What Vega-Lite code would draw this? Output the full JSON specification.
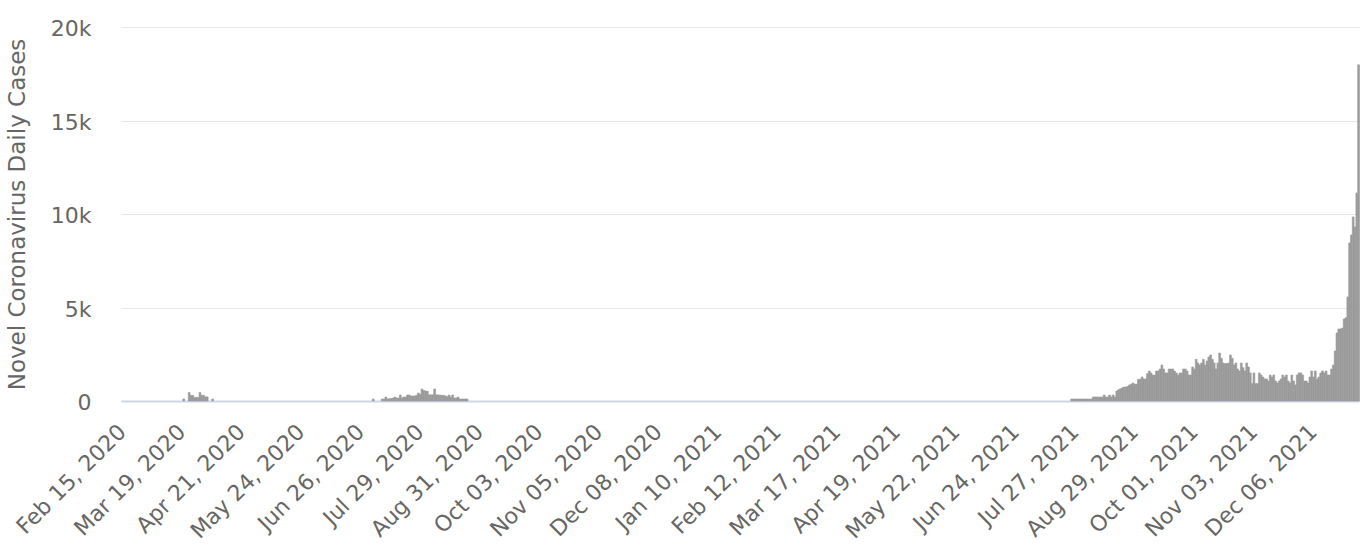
{
  "$schema": "https://vega.github.io/schema/vega-lite/v6.json",
  "width": 1238,
  "height": 374,
  "autosize": {"type": "none"},
  "padding": {"left": 121, "top": 27, "right": 10, "bottom": 145},
  "background": "white",
  "config": {"view": {"stroke": null}, "font": "DejaVu Sans"},
  "data": {"values": [
    {"date": "2020-03-20", "cases": 110},
    {"date": "2020-03-23", "cases": 460},
    {"date": "2020-03-24", "cases": 300},
    {"date": "2020-03-25", "cases": 300},
    {"date": "2020-03-26", "cases": 190},
    {"date": "2020-03-27", "cases": 190},
    {"date": "2020-03-28", "cases": 190},
    {"date": "2020-03-29", "cases": 460},
    {"date": "2020-03-30", "cases": 300},
    {"date": "2020-03-31", "cases": 300},
    {"date": "2020-04-01", "cases": 220},
    {"date": "2020-04-02", "cases": 220},
    {"date": "2020-04-05", "cases": 110},
    {"date": "2020-07-03", "cases": 107},
    {"date": "2020-07-08", "cases": 107},
    {"date": "2020-07-09", "cases": 107},
    {"date": "2020-07-10", "cases": 214},
    {"date": "2020-07-11", "cases": 107},
    {"date": "2020-07-12", "cases": 130},
    {"date": "2020-07-13", "cases": 130},
    {"date": "2020-07-14", "cases": 160},
    {"date": "2020-07-15", "cases": 214},
    {"date": "2020-07-16", "cases": 160},
    {"date": "2020-07-17", "cases": 160},
    {"date": "2020-07-18", "cases": 321},
    {"date": "2020-07-19", "cases": 160},
    {"date": "2020-07-20", "cases": 214},
    {"date": "2020-07-21", "cases": 214},
    {"date": "2020-07-22", "cases": 321},
    {"date": "2020-07-23", "cases": 321},
    {"date": "2020-07-24", "cases": 267},
    {"date": "2020-07-25", "cases": 267},
    {"date": "2020-07-26", "cases": 267},
    {"date": "2020-07-27", "cases": 300},
    {"date": "2020-07-28", "cases": 428},
    {"date": "2020-07-29", "cases": 360},
    {"date": "2020-07-30", "cases": 642},
    {"date": "2020-07-31", "cases": 560},
    {"date": "2020-08-01", "cases": 535},
    {"date": "2020-08-02", "cases": 520},
    {"date": "2020-08-03", "cases": 330},
    {"date": "2020-08-04", "cases": 330},
    {"date": "2020-08-05", "cases": 330},
    {"date": "2020-08-06", "cases": 642},
    {"date": "2020-08-07", "cases": 330},
    {"date": "2020-08-08", "cases": 320},
    {"date": "2020-08-09", "cases": 320},
    {"date": "2020-08-10", "cases": 300},
    {"date": "2020-08-11", "cases": 300},
    {"date": "2020-08-12", "cases": 270},
    {"date": "2020-08-13", "cases": 230},
    {"date": "2020-08-14", "cases": 321},
    {"date": "2020-08-15", "cases": 214},
    {"date": "2020-08-16", "cases": 321},
    {"date": "2020-08-17", "cases": 160},
    {"date": "2020-08-18", "cases": 160},
    {"date": "2020-08-19", "cases": 214},
    {"date": "2020-08-20", "cases": 107},
    {"date": "2020-08-21", "cases": 107},
    {"date": "2020-08-22", "cases": 107},
    {"date": "2020-08-23", "cases": 107},
    {"date": "2020-08-24", "cases": 107},
    {"date": "2021-07-25", "cases": 107},
    {"date": "2021-07-26", "cases": 107},
    {"date": "2021-07-27", "cases": 107},
    {"date": "2021-07-28", "cases": 107},
    {"date": "2021-07-29", "cases": 107},
    {"date": "2021-07-30", "cases": 107},
    {"date": "2021-07-31", "cases": 107},
    {"date": "2021-08-01", "cases": 107},
    {"date": "2021-08-02", "cases": 107},
    {"date": "2021-08-03", "cases": 107},
    {"date": "2021-08-04", "cases": 107},
    {"date": "2021-08-05", "cases": 107},
    {"date": "2021-08-06", "cases": 214},
    {"date": "2021-08-07", "cases": 214},
    {"date": "2021-08-08", "cases": 214},
    {"date": "2021-08-09", "cases": 214},
    {"date": "2021-08-10", "cases": 214},
    {"date": "2021-08-11", "cases": 214},
    {"date": "2021-08-12", "cases": 321},
    {"date": "2021-08-13", "cases": 214},
    {"date": "2021-08-14", "cases": 214},
    {"date": "2021-08-15", "cases": 321},
    {"date": "2021-08-16", "cases": 214},
    {"date": "2021-08-17", "cases": 321},
    {"date": "2021-08-18", "cases": 214},
    {"date": "2021-08-19", "cases": 535},
    {"date": "2021-08-20", "cases": 600},
    {"date": "2021-08-21", "cases": 650},
    {"date": "2021-08-22", "cases": 700},
    {"date": "2021-08-23", "cases": 749},
    {"date": "2021-08-24", "cases": 749},
    {"date": "2021-08-25", "cases": 780},
    {"date": "2021-08-26", "cases": 856},
    {"date": "2021-08-27", "cases": 900},
    {"date": "2021-08-28", "cases": 963},
    {"date": "2021-08-29", "cases": 900},
    {"date": "2021-08-30", "cases": 900},
    {"date": "2021-08-31", "cases": 1159},
    {"date": "2021-09-01", "cases": 1159},
    {"date": "2021-09-02", "cases": 1284},
    {"date": "2021-09-03", "cases": 1180},
    {"date": "2021-09-04", "cases": 1180},
    {"date": "2021-09-05", "cases": 1462},
    {"date": "2021-09-06", "cases": 1605},
    {"date": "2021-09-07", "cases": 1500},
    {"date": "2021-09-08", "cases": 1390},
    {"date": "2021-09-09", "cases": 1390},
    {"date": "2021-09-10", "cases": 1605},
    {"date": "2021-09-11", "cases": 1605},
    {"date": "2021-09-12", "cases": 1712},
    {"date": "2021-09-13", "cases": 1926},
    {"date": "2021-09-14", "cases": 1712},
    {"date": "2021-09-15", "cases": 1500},
    {"date": "2021-09-16", "cases": 1500},
    {"date": "2021-09-17", "cases": 1712},
    {"date": "2021-09-18", "cases": 1712},
    {"date": "2021-09-19", "cases": 1712},
    {"date": "2021-09-20", "cases": 1600},
    {"date": "2021-09-21", "cases": 1500},
    {"date": "2021-09-22", "cases": 1390},
    {"date": "2021-09-23", "cases": 1500},
    {"date": "2021-09-24", "cases": 1500},
    {"date": "2021-09-25", "cases": 1712},
    {"date": "2021-09-26", "cases": 1712},
    {"date": "2021-09-27", "cases": 1605},
    {"date": "2021-09-28", "cases": 1390},
    {"date": "2021-09-29", "cases": 1390},
    {"date": "2021-09-30", "cases": 1819},
    {"date": "2021-10-01", "cases": 1712},
    {"date": "2021-10-02", "cases": 2229},
    {"date": "2021-10-03", "cases": 2033},
    {"date": "2021-10-04", "cases": 1926},
    {"date": "2021-10-05", "cases": 2033},
    {"date": "2021-10-06", "cases": 2229},
    {"date": "2021-10-07", "cases": 1926},
    {"date": "2021-10-08", "cases": 2140},
    {"date": "2021-10-09", "cases": 2354},
    {"date": "2021-10-10", "cases": 2461},
    {"date": "2021-10-11", "cases": 2229},
    {"date": "2021-10-12", "cases": 2033},
    {"date": "2021-10-13", "cases": 1712},
    {"date": "2021-10-14", "cases": 2033},
    {"date": "2021-10-15", "cases": 2568},
    {"date": "2021-10-16", "cases": 2282},
    {"date": "2021-10-17", "cases": 2033},
    {"date": "2021-10-18", "cases": 2000},
    {"date": "2021-10-19", "cases": 2000},
    {"date": "2021-10-20", "cases": 2033},
    {"date": "2021-10-21", "cases": 2461},
    {"date": "2021-10-22", "cases": 2282},
    {"date": "2021-10-23", "cases": 1926},
    {"date": "2021-10-24", "cases": 2033},
    {"date": "2021-10-25", "cases": 1712},
    {"date": "2021-10-26", "cases": 1605},
    {"date": "2021-10-27", "cases": 2033},
    {"date": "2021-10-28", "cases": 1780},
    {"date": "2021-10-29", "cases": 1605},
    {"date": "2021-10-30", "cases": 2033},
    {"date": "2021-10-31", "cases": 1819},
    {"date": "2021-11-01", "cases": 1500},
    {"date": "2021-11-02", "cases": 930},
    {"date": "2021-11-03", "cases": 1500},
    {"date": "2021-11-04", "cases": 930},
    {"date": "2021-11-05", "cases": 930},
    {"date": "2021-11-06", "cases": 1500},
    {"date": "2021-11-07", "cases": 1390},
    {"date": "2021-11-08", "cases": 1284},
    {"date": "2021-11-09", "cases": 1180},
    {"date": "2021-11-10", "cases": 1180},
    {"date": "2021-11-11", "cases": 1070},
    {"date": "2021-11-12", "cases": 1390},
    {"date": "2021-11-13", "cases": 1284},
    {"date": "2021-11-14", "cases": 1390},
    {"date": "2021-11-15", "cases": 1070},
    {"date": "2021-11-16", "cases": 963},
    {"date": "2021-11-17", "cases": 1070},
    {"date": "2021-11-18", "cases": 1180},
    {"date": "2021-11-19", "cases": 1390},
    {"date": "2021-11-20", "cases": 1284},
    {"date": "2021-11-21", "cases": 1390},
    {"date": "2021-11-22", "cases": 1070},
    {"date": "2021-11-23", "cases": 963},
    {"date": "2021-11-24", "cases": 1390},
    {"date": "2021-11-25", "cases": 1070},
    {"date": "2021-11-26", "cases": 856},
    {"date": "2021-11-27", "cases": 1390},
    {"date": "2021-11-28", "cases": 1500},
    {"date": "2021-11-29", "cases": 1500},
    {"date": "2021-11-30", "cases": 1390},
    {"date": "2021-12-01", "cases": 1070},
    {"date": "2021-12-02", "cases": 1070},
    {"date": "2021-12-03", "cases": 963},
    {"date": "2021-12-04", "cases": 1284},
    {"date": "2021-12-05", "cases": 1605},
    {"date": "2021-12-06", "cases": 1284},
    {"date": "2021-12-07", "cases": 1605},
    {"date": "2021-12-08", "cases": 1180},
    {"date": "2021-12-09", "cases": 1284},
    {"date": "2021-12-10", "cases": 1500},
    {"date": "2021-12-11", "cases": 1605},
    {"date": "2021-12-12", "cases": 1500},
    {"date": "2021-12-13", "cases": 1605},
    {"date": "2021-12-14", "cases": 1390},
    {"date": "2021-12-15", "cases": 1390},
    {"date": "2021-12-16", "cases": 1712},
    {"date": "2021-12-17", "cases": 1926},
    {"date": "2021-12-18", "cases": 2675},
    {"date": "2021-12-19", "cases": 3638},
    {"date": "2021-12-20", "cases": 3852},
    {"date": "2021-12-21", "cases": 3852},
    {"date": "2021-12-22", "cases": 3900},
    {"date": "2021-12-23", "cases": 4387},
    {"date": "2021-12-24", "cases": 4450},
    {"date": "2021-12-25", "cases": 5564},
    {"date": "2021-12-26", "cases": 8453},
    {"date": "2021-12-27", "cases": 8881},
    {"date": "2021-12-28", "cases": 9844},
    {"date": "2021-12-29", "cases": 9309},
    {"date": "2021-12-30", "cases": 11128},
    {"date": "2021-12-31", "cases": 17976}
  ]},
  "mark": {"type": "bar", "color": "#9a9a9a", "binSpacing": 0, "stroke": "#9a9a9a", "strokeWidth": 0.6},
  "encoding": {
    "x": {
      "field": "date",
      "type": "temporal",
      "timeUnit": "utcyearmonthdate",
      "scale": {"domain": [
        {"year": 2020, "month": 2, "date": 15, "utc": true},
        {"year": 2022, "month": 1, "date": 1, "utc": true}
      ]},
      "axis": {
        "values": [
          {"year": 2020, "month": 2, "date": 15, "hours": 12, "utc": true},
          {"year": 2020, "month": 3, "date": 19, "hours": 12, "utc": true},
          {"year": 2020, "month": 4, "date": 21, "hours": 12, "utc": true},
          {"year": 2020, "month": 5, "date": 24, "hours": 12, "utc": true},
          {"year": 2020, "month": 6, "date": 26, "hours": 12, "utc": true},
          {"year": 2020, "month": 7, "date": 29, "hours": 12, "utc": true},
          {"year": 2020, "month": 8, "date": 31, "hours": 12, "utc": true},
          {"year": 2020, "month": 10, "date": 3, "hours": 12, "utc": true},
          {"year": 2020, "month": 11, "date": 5, "hours": 12, "utc": true},
          {"year": 2020, "month": 12, "date": 8, "hours": 12, "utc": true},
          {"year": 2021, "month": 1, "date": 10, "hours": 12, "utc": true},
          {"year": 2021, "month": 2, "date": 12, "hours": 12, "utc": true},
          {"year": 2021, "month": 3, "date": 17, "hours": 12, "utc": true},
          {"year": 2021, "month": 4, "date": 19, "hours": 12, "utc": true},
          {"year": 2021, "month": 5, "date": 22, "hours": 12, "utc": true},
          {"year": 2021, "month": 6, "date": 24, "hours": 12, "utc": true},
          {"year": 2021, "month": 7, "date": 27, "hours": 12, "utc": true},
          {"year": 2021, "month": 8, "date": 29, "hours": 12, "utc": true},
          {"year": 2021, "month": 10, "date": 1, "hours": 12, "utc": true},
          {"year": 2021, "month": 11, "date": 3, "hours": 12, "utc": true},
          {"year": 2021, "month": 12, "date": 6, "hours": 12, "utc": true}
        ],
        "format": "%b %d, %Y",
        "labelAngle": -45,
        "labelAlign": "right",
        "labelBaseline": "middle",
        "labelFontSize": 22,
        "labelColor": "#666666",
        "labelPadding": 27,
        "labelOverlap": false,
        "labelFlush": false,
        "labelBound": false,
        "ticks": false,
        "grid": false,
        "domainColor": "#ccd6eb",
        "domainWidth": 2,
        "title": null
      }
    },
    "y": {
      "field": "cases",
      "type": "quantitative",
      "scale": {"domain": [0, 20000], "nice": false},
      "axis": {
        "values": [0, 5000, 10000, 15000, 20000],
        "labelExpr": "datum.value == 0 ? '0' : (datum.value / 1000) + 'k'",
        "labelFontSize": 22,
        "labelColor": "#666666",
        "labelPadding": 30,
        "labelOffset": 1.5,
        "ticks": false,
        "domain": false,
        "grid": true,
        "gridColor": "#e6e6e6",
        "gridWidth": 1,
        "title": "Novel Coronavirus Daily Cases",
        "titleFontSize": 23,
        "titleColor": "#666666",
        "titleFontWeight": "normal",
        "titlePadding": 21
      }
    }
  }
}
